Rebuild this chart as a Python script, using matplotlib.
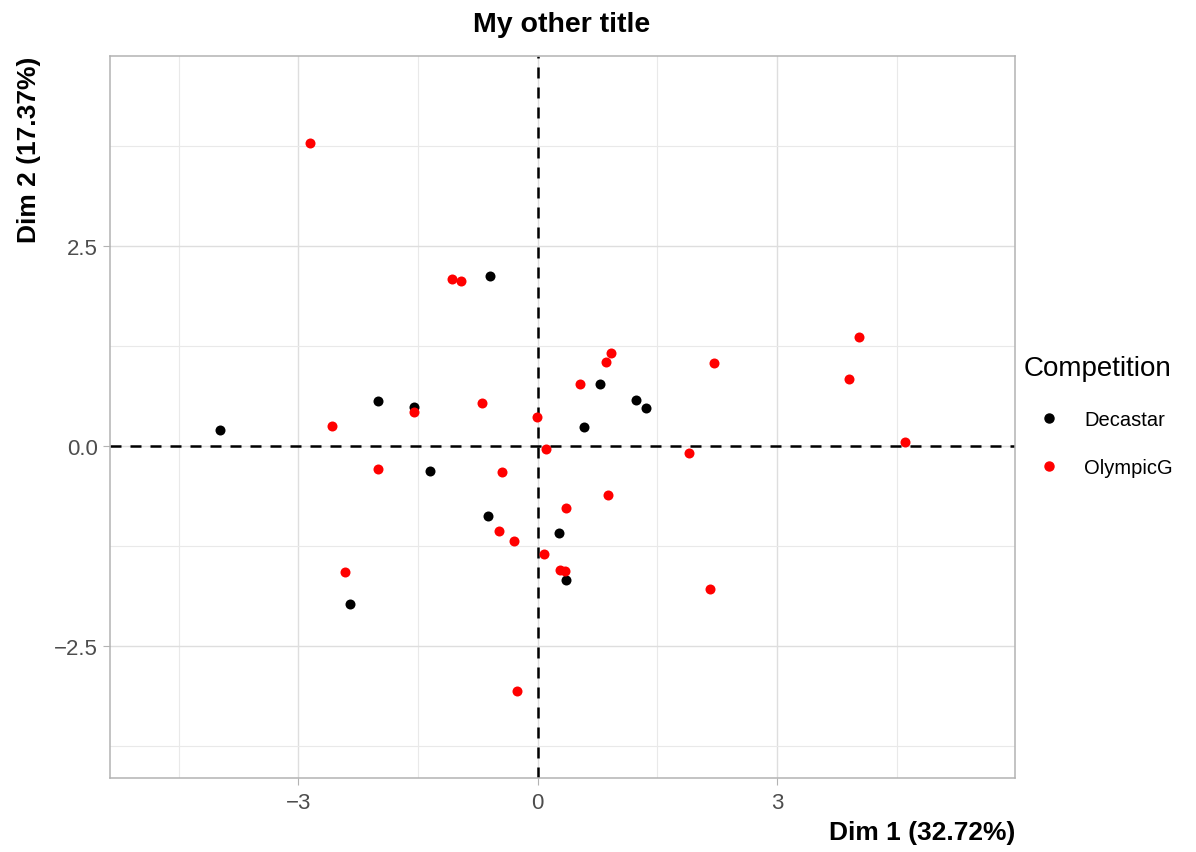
import matplotlib
matplotlib.use('Agg')
import matplotlib.pyplot as plt
from matplotlib.lines import Line2D
from matplotlib.ticker import FixedLocator

plt.rcParams['font.family'] = ['Liberation Sans', 'DejaVu Sans']

# Individual coordinates on the first two principal dimensions
decastar_x = [-3.98, -0.60, -2.00, -1.55, 0.78, 1.23, 1.36, 0.58, -1.35, -0.62, 0.27, 0.35, -2.35]
decastar_y = [0.20, 2.13, 0.56, 0.49, 0.78, 0.58, 0.48, 0.24, -0.31, -0.88, -1.09, -1.68, -1.97]

olympic_x = [-2.86, -1.08, -0.96, 4.02, 2.21, 0.92, 0.86, 3.90, 0.53, -0.70, -0.01, -1.55,
             -2.58, 4.60, 0.10, 1.89, -2.00, -0.45, 0.36, 0.88, -0.49, -0.30, 0.08, 0.28,
             0.34, -2.42, 2.16, -0.26]
olympic_y = [3.79, 2.09, 2.06, 1.36, 1.04, 1.16, 1.05, 0.84, 0.78, 0.54, 0.36, 0.43,
             0.25, 0.05, -0.04, -0.09, -0.29, -0.33, -0.77, -0.61, -1.06, -1.19, -1.35, -1.55,
             -1.56, -1.58, -1.79, -3.06]

groups = ['Decastar', 'OlympicG']
colors = ['black', 'red']

x_ticks = [-3, 0, 3]
x_ticklabels = ['\u22123', '0', '3']
y_ticks = [-2.5, 0.0, 2.5]
y_ticklabels = ['\u22122.5', '0.0', '2.5']

W, H = 1196, 853
fig = plt.figure(figsize=(W / 100, H / 100), dpi=100)
ax = fig.add_axes([110 / W, 1 - 779 / H, (1015 - 110) / W, (779 - 57) / H])

ax.scatter(decastar_x, decastar_y, s=52, color=colors[0], zorder=3, linewidths=0)
ax.scatter(olympic_x, olympic_y, s=52, color=colors[1], zorder=3, linewidths=0)

ax.axhline(0, color='black', lw=1.8, dashes=(4.4, 3.6), zorder=2)
ax.axvline(0, color='black', lw=1.8, dashes=(4.4, 3.6), zorder=2)

ax.set_xlim(-5.36, 5.98)
ax.set_ylim(-4.15, 4.875)

ax.xaxis.set_major_locator(FixedLocator(x_ticks))
ax.yaxis.set_major_locator(FixedLocator(y_ticks))
ax.xaxis.set_minor_locator(FixedLocator([-4.5, -1.5, 1.5, 4.5]))
ax.yaxis.set_minor_locator(FixedLocator([-3.75, -1.25, 1.25, 3.75]))
ax.set_xticklabels(x_ticklabels)
ax.set_yticklabels(y_ticklabels)
ax.grid(which='major', color='#dedede', lw=1.0, zorder=0)
ax.grid(which='minor', color='#e9e9e9', lw=0.8, zorder=0)
ax.set_axisbelow(True)
ax.tick_params(which='major', length=5, color='#b3b3b3', width=0.8,
               labelsize=16, labelcolor='#4d4d4d')
ax.tick_params(axis='x', pad=5)
ax.tick_params(axis='y', pad=4)
ax.tick_params(which='minor', length=0)
for sp in ax.spines.values():
    sp.set_color('#b3b3b3')
    sp.set_linewidth(1.1)

fig.text(562 / W, 1 - 25 / H, 'My other title', ha='center', va='center',
         fontsize=20.5, fontweight='bold')
fig.text(1015 / W, 1 - 833 / H, 'Dim 1 (32.72%)', ha='right', va='center',
         fontsize=19, fontweight='bold')
fig.text(29 / W, 1 - 150 / H, 'Dim 2 (17.37%)', ha='center', va='center',
         rotation=90, fontsize=19, fontweight='bold')

handles = [Line2D([], [], marker='o', ls='', color=c, markersize=6.5) for c in colors]
fig.legend(handles, groups, title='Competition', loc='upper left',
           bbox_to_anchor=(1016 / W, 1 - 348 / H), frameon=False,
           fontsize=14.5, title_fontsize=20, alignment='left',
           handlelength=2.5, handletextpad=0.5, labelspacing=1.45,
           borderaxespad=0)

fig.savefig('out.png', dpi=100)
